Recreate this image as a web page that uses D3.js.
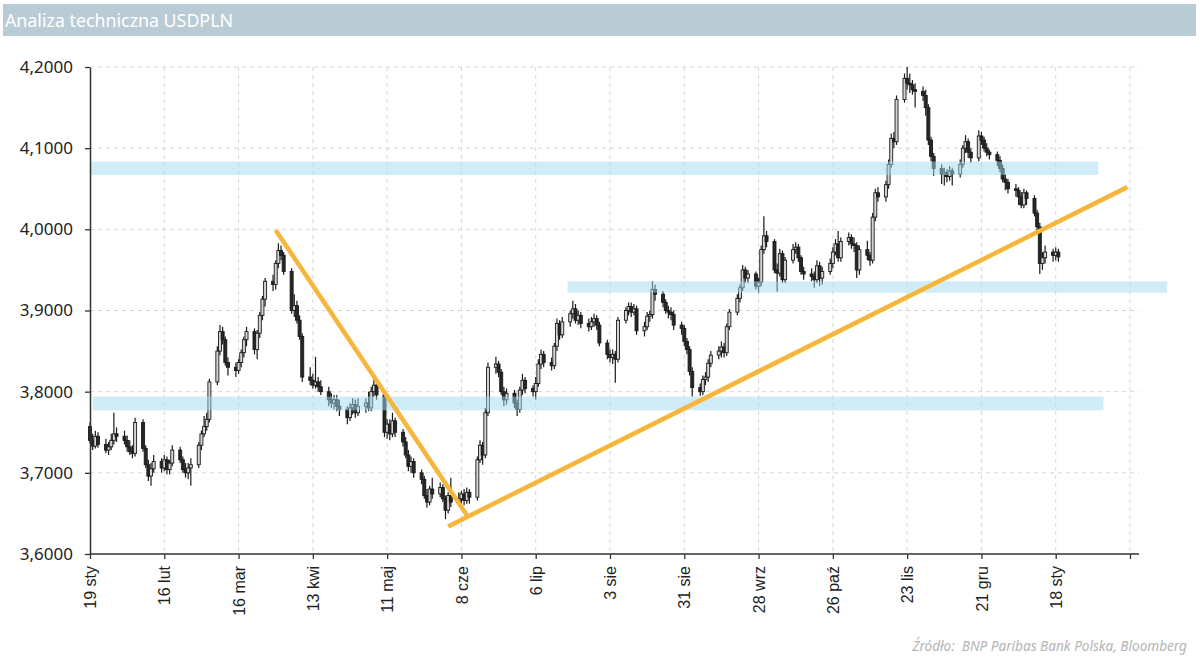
<!DOCTYPE html>
<html><head><meta charset="utf-8">
<script src="https://cdn.jsdelivr.net/npm/d3@7"></script>
<style>body{margin:0;background:#fff} svg{display:block}</style>
</head><body><svg id="c" width="1200" height="669"></svg>
<script>
const title = "Analiza techniczna USDPLN";
const source = "Źródło:  BNP Paribas Bank Polska, Bloomberg";
const yTicks = [3.6, 3.7, 3.8, 3.9, 4.0, 4.1, 4.2];
const xTickDates = ["2021-01-19","2021-02-16","2021-03-16","2021-04-13","2021-05-11","2021-06-08","2021-07-06","2021-08-03","2021-08-31","2021-09-28","2021-10-26","2021-11-23","2021-12-21","2022-01-18","2022-02-15"];
const xTickLabels = ["19 sty","16 lut","16 mar","13 kwi","11 maj","8 cze","6 lip","3 sie","31 sie","28 wrz","26 paź","23 lis","21 gru","18 sty",""];
const firstDay = "2021-01-19";
// daily candles (weekdays from firstDay): [open, high, low, close]
const ohlc = [
[3.757,3.762,3.736,3.740],[3.740,3.748,3.728,3.733],[3.733,3.752,3.730,3.745],[3.745,3.750,3.731,3.735],
[3.735,3.742,3.724,3.728],[3.728,3.738,3.722,3.732],[3.732,3.748,3.728,3.740],[3.740,3.774,3.735,3.748],[3.748,3.756,3.738,3.745],
[3.745,3.752,3.735,3.740],[3.740,3.746,3.726,3.732],[3.732,3.740,3.722,3.726],[3.726,3.734,3.718,3.724],[3.724,3.768,3.720,3.762],
[3.762,3.766,3.726,3.730],[3.730,3.734,3.706,3.710],[3.710,3.716,3.690,3.696],[3.696,3.712,3.684,3.705],[3.705,3.722,3.700,3.714],
[3.714,3.718,3.700,3.706],[3.706,3.722,3.702,3.716],[3.716,3.720,3.698,3.704],[3.704,3.716,3.698,3.712],[3.712,3.734,3.708,3.728],
[3.728,3.732,3.712,3.716],[3.716,3.720,3.700,3.704],[3.704,3.712,3.694,3.700],[3.700,3.712,3.692,3.706],[3.706,3.718,3.684,3.710],
[3.710,3.738,3.706,3.734],[3.734,3.752,3.728,3.748],[3.748,3.770,3.744,3.757],[3.757,3.774,3.752,3.766],[3.766,3.816,3.762,3.812],
[3.812,3.856,3.808,3.850],[3.850,3.882,3.845,3.874],[3.874,3.880,3.858,3.864],[3.864,3.868,3.832,3.836],[3.836,3.842,3.820,3.830],
[3.830,3.836,3.818,3.826],[3.826,3.840,3.822,3.836],[3.836,3.852,3.830,3.848],[3.848,3.868,3.842,3.864],[3.864,3.880,3.856,3.874],
[3.874,3.878,3.846,3.852],[3.852,3.876,3.840,3.872],[3.872,3.898,3.866,3.894],[3.894,3.918,3.888,3.914],[3.914,3.940,3.905,3.936],
[3.936,3.944,3.924,3.932],[3.932,3.962,3.926,3.958],[3.958,3.983,3.952,3.974],[3.974,3.980,3.962,3.968],[3.968,3.972,3.944,3.948],
[3.948,3.952,3.896,3.900],[3.900,3.920,3.892,3.906],[3.906,3.912,3.884,3.888],[3.888,3.894,3.864,3.868],[3.868,3.872,3.812,3.818],
[3.818,3.830,3.808,3.814],[3.814,3.822,3.804,3.808],[3.808,3.843,3.804,3.812],[3.812,3.818,3.800,3.806],[3.806,3.814,3.796,3.800],
[3.800,3.806,3.782,3.790],[3.790,3.798,3.780,3.786],[3.786,3.796,3.778,3.790],[3.790,3.796,3.776,3.782],[3.782,3.790,3.770,3.778],
[3.778,3.782,3.760,3.768],[3.768,3.786,3.764,3.780],[3.780,3.792,3.772,3.784],[3.784,3.790,3.768,3.774],[3.774,3.792,3.770,3.782],
[3.782,3.792,3.774,3.786],[3.786,3.800,3.776,3.780],[3.780,3.806,3.776,3.800],[3.800,3.816,3.794,3.808],[3.808,3.812,3.790,3.796],
[3.796,3.800,3.744,3.750],[3.750,3.766,3.742,3.760],[3.760,3.766,3.740,3.748],[3.748,3.774,3.744,3.764],[3.764,3.768,3.744,3.750],
[3.750,3.754,3.732,3.738],[3.738,3.744,3.718,3.722],[3.722,3.728,3.702,3.708],[3.708,3.720,3.700,3.714],[3.714,3.718,3.694,3.700],
[3.700,3.704,3.686,3.692],[3.692,3.696,3.668,3.672],[3.672,3.680,3.657,3.664],[3.664,3.684,3.660,3.680],[3.680,3.694,3.668,3.674],
[3.674,3.688,3.670,3.682],[3.682,3.686,3.664,3.668],[3.668,3.672,3.643,3.654],[3.654,3.676,3.650,3.672],[3.672,3.694,3.658,3.664],
[3.664,3.676,3.660,3.668],[3.668,3.678,3.662,3.674],[3.674,3.680,3.660,3.666],[3.666,3.682,3.662,3.676],[3.676,3.680,3.662,3.670],
[3.670,3.720,3.666,3.716],[3.716,3.740,3.712,3.734],[3.734,3.738,3.710,3.722],[3.722,3.780,3.718,3.774],[3.774,3.836,3.770,3.830],
[3.830,3.843,3.822,3.834],[3.834,3.838,3.818,3.824],[3.824,3.828,3.796,3.800],[3.800,3.806,3.782,3.790],[3.790,3.804,3.784,3.798],
[3.798,3.802,3.780,3.786],[3.786,3.790,3.770,3.778],[3.778,3.806,3.774,3.802],[3.802,3.822,3.796,3.814],[3.814,3.818,3.798,3.804],
[3.804,3.808,3.794,3.800],[3.800,3.818,3.790,3.810],[3.810,3.840,3.806,3.834],[3.834,3.852,3.828,3.846],[3.846,3.850,3.830,3.836],
[3.836,3.842,3.826,3.832],[3.832,3.860,3.828,3.856],[3.856,3.890,3.850,3.884],[3.884,3.888,3.864,3.870],[3.870,3.892,3.866,3.886],
[3.886,3.900,3.880,3.896],[3.896,3.912,3.890,3.902],[3.902,3.908,3.884,3.888],[3.888,3.900,3.882,3.894],[3.894,3.898,3.878,3.884],
[3.884,3.890,3.874,3.880],[3.880,3.892,3.876,3.886],[3.886,3.896,3.880,3.890],[3.890,3.894,3.876,3.882],[3.882,3.886,3.856,3.860],
[3.860,3.864,3.840,3.846],[3.846,3.852,3.836,3.842],[3.842,3.852,3.834,3.846],[3.846,3.850,3.811,3.840],[3.840,3.892,3.836,3.888],
[3.888,3.904,3.884,3.900],[3.900,3.910,3.894,3.905],[3.905,3.910,3.892,3.898],[3.898,3.908,3.894,3.902],[3.902,3.906,3.870,3.875],
[3.875,3.886,3.868,3.880],[3.880,3.898,3.876,3.893],[3.893,3.900,3.886,3.895],[3.895,3.936,3.890,3.926],[3.926,3.932,3.912,3.920],
[3.920,3.924,3.904,3.910],[3.910,3.914,3.896,3.900],[3.900,3.906,3.890,3.898],[3.898,3.904,3.888,3.895],[3.895,3.900,3.876,3.882],
[3.882,3.886,3.870,3.878],[3.878,3.882,3.856,3.862],[3.862,3.866,3.846,3.852],[3.852,3.856,3.820,3.825],[3.825,3.830,3.794,3.805],
[3.805,3.810,3.795,3.800],[3.800,3.820,3.796,3.815],[3.815,3.824,3.808,3.818],[3.818,3.840,3.812,3.835],[3.835,3.850,3.830,3.845],
[3.845,3.856,3.840,3.850],[3.850,3.862,3.842,3.855],[3.855,3.860,3.842,3.848],[3.848,3.884,3.844,3.880],[3.880,3.902,3.876,3.898],
[3.898,3.920,3.894,3.915],[3.915,3.932,3.910,3.928],[3.928,3.956,3.924,3.950],[3.950,3.954,3.934,3.940],[3.940,3.950,3.934,3.945],
[3.945,3.948,3.926,3.930],[3.930,3.940,3.922,3.935],[3.935,3.980,3.930,3.975],[3.975,4.016,3.970,3.992],[3.992,3.998,3.978,3.985],
[3.985,3.988,3.946,3.950],[3.950,3.958,3.923,3.946],[3.946,3.976,3.942,3.970],[3.970,3.974,3.934,3.938],[3.938,3.966,3.934,3.962],
[3.962,3.982,3.958,3.975],[3.975,3.984,3.970,3.978],[3.978,3.982,3.960,3.965],[3.965,3.968,3.944,3.948],[3.948,3.954,3.938,3.945],
[3.945,3.952,3.936,3.942],[3.942,3.948,3.928,3.938],[3.938,3.962,3.934,3.955],[3.955,3.960,3.930,3.940],[3.940,3.954,3.932,3.948],
[3.948,3.964,3.944,3.958],[3.958,3.978,3.952,3.972],[3.972,3.988,3.968,3.982],[3.982,3.998,3.960,3.965],[3.965,3.990,3.960,3.985],
[3.985,3.996,3.980,3.990],[3.990,3.994,3.976,3.982],[3.982,3.990,3.972,3.980],[3.980,3.984,3.940,3.950],[3.950,3.980,3.944,3.975],
[3.975,3.986,3.962,3.968],[3.968,3.972,3.955,3.962],[3.962,4.020,3.958,4.015],[4.015,4.050,4.010,4.045],[4.045,4.052,4.034,4.040],
[4.040,4.060,4.034,4.055],[4.055,4.086,4.050,4.080],[4.080,4.118,4.076,4.112],[4.112,4.120,4.100,4.108],[4.108,4.165,4.104,4.160],
[4.160,4.192,4.156,4.186],[4.186,4.200,4.172,4.180],[4.180,4.192,4.168,4.178],[4.178,4.184,4.166,4.172],[4.172,4.180,4.150,4.170],
[4.170,4.176,4.158,4.165],[4.165,4.172,4.140,4.150],[4.150,4.154,4.104,4.110],[4.110,4.114,4.084,4.090],[4.090,4.094,4.066,4.075],
[4.075,4.080,4.056,4.068],[4.068,4.076,4.054,4.070],[4.070,4.074,4.058,4.065],[4.065,4.078,4.060,4.072],[4.072,4.076,4.054,4.068],
[4.068,4.086,4.064,4.080],[4.080,4.104,4.076,4.100],[4.100,4.116,4.094,4.108],[4.108,4.112,4.088,4.095],[4.095,4.100,4.082,4.088],
[4.088,4.122,4.084,4.115],[4.115,4.120,4.104,4.110],[4.110,4.114,4.096,4.100],[4.100,4.106,4.090,4.095],[4.095,4.098,4.086,4.092],
[4.092,4.096,4.078,4.085],[4.085,4.090,4.070,4.075],[4.075,4.080,4.058,4.062],[4.062,4.068,4.048,4.058],[4.058,4.062,4.044,4.050],
[4.050,4.056,4.040,4.048],[4.048,4.052,4.030,4.040],[4.040,4.046,4.026,4.030],[4.030,4.050,4.026,4.045],[4.045,4.048,4.030,4.038],
[4.038,4.042,4.016,4.020],[4.020,4.024,3.998,4.003],[4.003,4.008,3.945,3.958],[3.958,3.972,3.950,3.965],[3.965,3.980,3.958,3.972],
[3.972,3.976,3.960,3.968],[3.968,3.978,3.962,3.972],[3.972,3.976,3.960,3.966]
];
// horizontal support/resistance zones: [from, to, low level, high level]
const bands = [
  ["2021-01-19","2022-02-03",4.067,4.0835],
  ["2021-07-18","2022-03-01",3.922,3.936],
  ["2021-01-20","2022-02-05",3.777,3.794]
];
// trend lines: [date1, value1, date2, value2]
const trendLines = [
  ["2021-03-30",3.999,"2021-06-10",3.648],
  ["2021-06-03",3.634,"2022-02-14",4.052]
];

const parse = d3.timeParse("%Y-%m-%d");
const svg = d3.select("#c");
const x = d3.scaleTime().domain([parse("2021-01-19"), parse("2022-02-15")]).range([90, 1130]);
const y = d3.scaleLinear().domain([3.6, 4.2]).range([554, 67]);
const xRight = 1139;

// trading dates
const dates = [];
let dd = parse(firstDay);
while (dates.length < ohlc.length) {
  const wd = dd.getDay();
  if (wd !== 0 && wd !== 6) dates.push(new Date(dd));
  dd = d3.timeDay.offset(dd, 1);
}
const candles = ohlc.map((r, i) => ({date: dates[i], o: r[0], h: r[1], l: r[2], c: r[3]}));

// title bar
svg.append("rect").attr("x", 3).attr("y", 4).attr("width", 1193).attr("height", 32).attr("fill", "#b9cbd5");
svg.append("text").attr("x", 5).attr("y", 27).attr("fill", "#fff")
  .attr("font-family", "Noto Sans, sans-serif").attr("font-size", 18)
  .attr("textLength", 228).attr("lengthAdjust", "spacingAndGlyphs").text(title);

// grid
const tickDates = xTickDates.map(parse);
const grid = svg.append("g").attr("stroke", "#d6d6d6").attr("stroke-dasharray", "4,4").attr("stroke-width", 1);
grid.selectAll(".hg").data(yTicks.slice(1)).join("line")
  .attr("x1", 90).attr("x2", xRight).attr("y1", d => y(d)).attr("y2", d => y(d));
grid.selectAll(".vg").data(tickDates.slice(1)).join("line")
  .attr("x1", d => x(d)).attr("x2", d => x(d)).attr("y1", y(4.2)).attr("y2", y(3.6));

// candles
const bw = 3;
const cg = svg.append("g");
cg.selectAll(".w").data(candles).join("line")
  .attr("x1", d => x(d.date)).attr("x2", d => x(d.date))
  .attr("y1", d => y(d.h)).attr("y2", d => y(d.l))
  .attr("stroke", "#1a1a1a").attr("stroke-width", 1.2);
cg.selectAll(".b").data(candles).join("rect")
  .attr("x", d => x(d.date) - bw / 2).attr("width", bw)
  .attr("y", d => y(Math.max(d.o, d.c)))
  .attr("height", d => Math.max(1, Math.abs(y(d.o) - y(d.c))))
  .attr("fill", d => d.c >= d.o ? "#d4d4d4" : "#262626")
  .attr("stroke", "#1a1a1a").attr("stroke-width", 0.9);

// bands
svg.append("g").selectAll("rect").data(bands).join("rect")
  .attr("x", d => x(parse(d[0]))).attr("width", d => x(parse(d[1])) - x(parse(d[0])))
  .attr("y", d => y(d[3])).attr("height", d => y(d[2]) - y(d[3]))
  .attr("fill", "#9fd9ef").attr("opacity", 0.5);

// trend lines
svg.append("g").selectAll("line").data(trendLines).join("line")
  .attr("x1", d => x(parse(d[0]))).attr("y1", d => y(d[1]))
  .attr("x2", d => x(parse(d[2]))).attr("y2", d => y(d[3]))
  .attr("stroke", "#f7b53b").attr("stroke-width", 4.5).attr("stroke-linecap", "butt");

// y axis
const ya = svg.append("g").attr("transform", "translate(90,0)")
  .call(d3.axisLeft(y).tickValues(yTicks).tickSize(5).tickSizeOuter(0).tickPadding(12)
    .tickFormat(d => d.toFixed(4).replace(".", ",")));
ya.select(".domain").attr("stroke", "#333").attr("stroke-width", 1.5);
ya.selectAll(".tick line").attr("stroke", "#333").attr("stroke-width", 1.3);
ya.selectAll("text").attr("font-family", "Noto Sans, sans-serif").attr("font-size", 17).attr("fill", "#222");

// x axis
const xa = svg.append("g").attr("transform", "translate(0,554)")
  .call(d3.axisBottom(x).tickValues(tickDates).tickSize(5).tickSizeOuter(0)
    .tickFormat((d, i) => xTickLabels[i]));
xa.select(".domain").attr("d", `M90,0H${xRight}`).attr("stroke", "#333").attr("stroke-width", 1.5);
xa.selectAll(".tick line").attr("stroke", "#333").attr("stroke-width", 1.3);
xa.selectAll("text")
  .attr("font-family", "Liberation Sans, Arial, sans-serif").attr("font-size", 16).attr("fill", "#222")
  .attr("transform", "rotate(-90)").attr("x", -12).attr("y", 0).attr("dy", "0.35em")
  .attr("text-anchor", "end");

// source
svg.append("text").attr("x", 1187).attr("y", 651).attr("text-anchor", "end")
  .attr("font-family", "Noto Sans, sans-serif").attr("font-style", "italic")
  .style("white-space", "pre")
  .attr("font-size", 13.6).attr("fill", "#b4b4b4").text(source);
</script>
</body></html>
